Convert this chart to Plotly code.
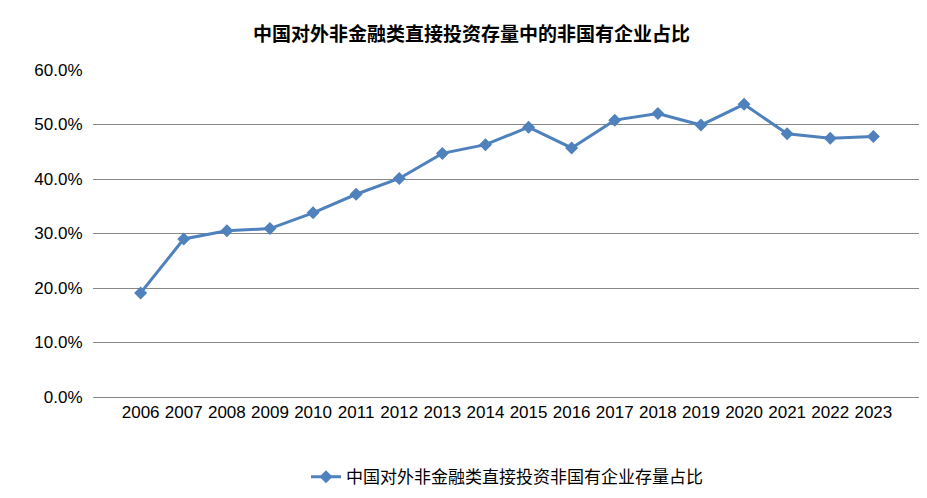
import plotly.graph_objects as go

years = [str(y) for y in range(2006, 2024)]
values = [19.1, 29.0, 30.5, 30.9, 33.8, 37.2, 40.1, 44.7, 46.3, 49.5, 45.7, 50.8, 52.0, 49.9, 53.7, 48.3, 47.5, 47.8]
series_name = "中国对外非金融类直接投资非国有企业存量占比"
title = "中国对外非金融类直接投资存量中的非国有企业占比"

fig = go.Figure(go.Scatter(
    x=years, y=[v / 100 for v in values], mode="lines+markers", name=series_name,
    line=dict(color="#4F81BD", width=3),
    marker=dict(symbol="diamond", size=10, color="#4F81BD"),
))
fig.update_layout(
    width=927, height=498, plot_bgcolor="white", paper_bgcolor="white",
    font=dict(family="Noto Sans CJK SC, Liberation Sans", size=17, color="black"),
    title=dict(text="<b>" + title + "</b>", x=0.5, y=0.96, xanchor="center", yanchor="top", font=dict(size=19)),
    margin=dict(l=85, r=14, t=62, b=109, autoexpand=False),
    showlegend=True,
    legend=dict(orientation="h", x=0.5, xanchor="center", y=-0.19, yanchor="top"),
)
fig.update_xaxes(type="category", showgrid=False, showline=True, linecolor="#888", ticks="", automargin=False,
                 tickfont=dict(family="Liberation Sans", size=17))
fig.update_yaxes(range=[0, 0.6], dtick=0.1, tickformat=".1%", gridcolor="#888", showline=False, automargin=False,
                 zeroline=False, tickfont=dict(family="Liberation Sans", size=17), ticksuffix="  ")
fig.write_html("out.html")
